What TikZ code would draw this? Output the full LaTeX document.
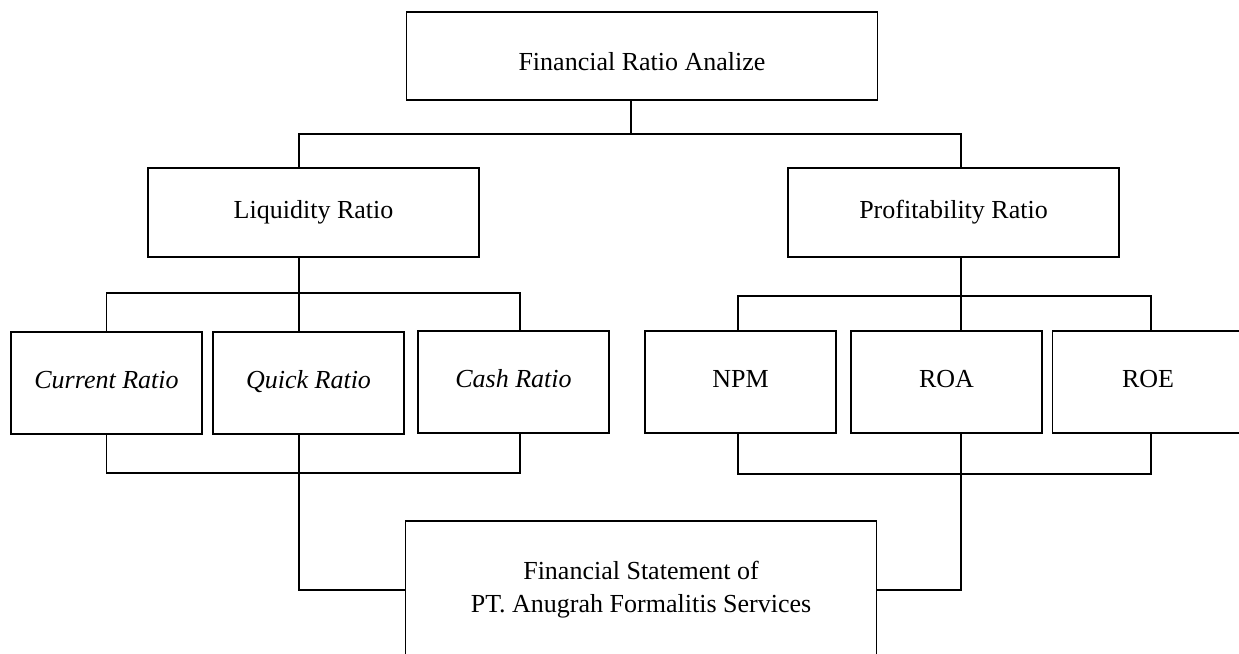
\documentclass[tikz,border=0pt]{standalone}
\usepackage{fontspec}
\setmainfont{Liberation Serif}
\begin{document}
\begin{tikzpicture}[x=0.02cm,y=-0.02cm,line width=0.9pt,
  box/.style={draw,inner sep=0pt,font=\fontsize{14.8}{18.7}\selectfont,align=center},
  head/.style={box,minimum width=9.42cm,minimum height=1.76cm,text height=0.58cm,text depth=0pt},
  group/.style={box,minimum width=6.62cm,minimum height=1.78cm,text height=0.66em,text depth=0pt},
  item/.style={box,minimum width=3.82cm,minimum height=2.04cm,text height=0.66em,text depth=0pt}]
  \useasboundingbox (0,0) rectangle (1239,653);
  % boxes
  \node[head] (ratio) at (642,56) {Financial Ratio Analize};
  \node[group] (liq) at (313.5,212.5) {Liquidity Ratio};
  \node[group] (prof) at (953.5,212.5) {Profitability Ratio};
  \node[item] (cur) at (106.5,383) {\itshape Current Ratio};
  \node[item] (qui) at (308.5,383) {\itshape Quick Ratio};
  \node[item] (cas) at (513.5,382) {\itshape Cash Ratio};
  \node[item] (npm) at (740.5,382) {NPM};
  \node[item] (roa) at (946.5,382) {ROA};
  \node[item] (roe) at (1148,382) {ROE};
  \node[box,minimum width=9.42cm,minimum height=2.76cm] (fin) at (641,590) {Financial Statement of\\PT. Anugrah Formalitis Services};
  % top level
  \coordinate (hub) at (631,134);
  \coordinate (lq) at (299,134);
  \coordinate (pf) at (961,134);
  \draw (hub |- ratio.south) -- (hub);
  \draw (lq |- liq.north) -- (lq) -- (pf) -- (pf |- prof.north);
  % liquidity
  \coordinate (lbus) at (299,293);
  \coordinate (casx) at (520,293);
  \coordinate (casb) at (520,473);
  \draw (lbus |- liq.south) -- (lbus |- qui.north);
  \draw (cur.north) |- (casx) -- (casx |- cas.north);
  \draw (cur.south) |- (casb) -- (casb |- cas.south);
  \draw (lbus |- qui.south) |- (fin.west);
  % profitability
  \coordinate (rbus) at (961,296);
  \coordinate (npmx) at (738,296);
  \coordinate (roex) at (1151,296);
  \coordinate (npmb) at (738,474);
  \coordinate (roeb) at (1151,474);
  \draw (rbus |- prof.south) -- (rbus |- roa.north);
  \draw (npmx |- npm.north) -- (npmx) -- (roex) -- (roex |- roe.north);
  \draw (npmb |- npm.south) -- (npmb) -- (roeb) -- (roeb |- roe.south);
  \draw (rbus |- roa.south) |- (fin.east);
\end{tikzpicture}
\end{document}
